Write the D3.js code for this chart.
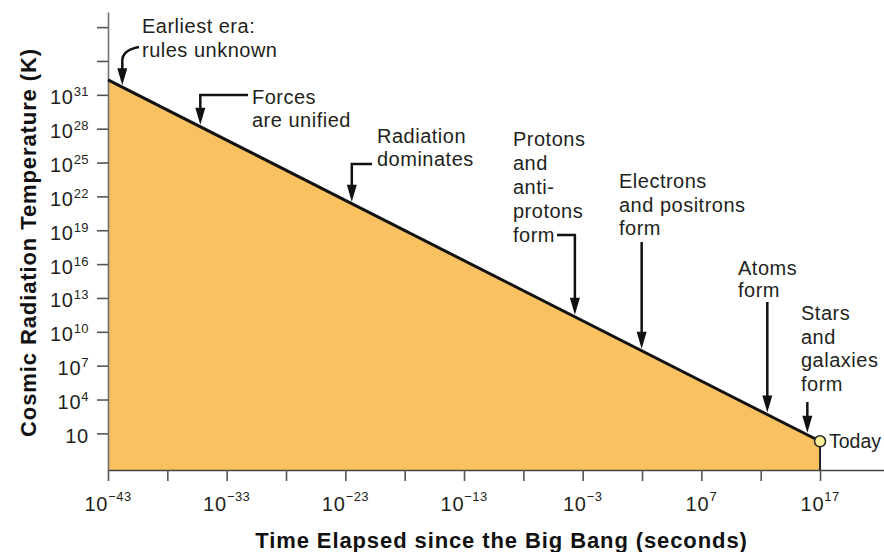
<!DOCTYPE html>
<html><head><meta charset="utf-8">
<script src="https://cdn.jsdelivr.net/npm/d3@7"></script>
<style>
html,body{margin:0;padding:0;background:#fff;}
svg{display:block;font-family:"Liberation Sans",Arial,Helvetica,sans-serif;}
</style></head><body>
<svg id="chart" width="884" height="552"></svg>
<script>
// ---------- data ----------
const eraTimes = [1e-43, 1e17];          // seconds since the Big Bang
const eraTemps = [2.1e32, 2];            // cosmic radiation temperature, K
const timeTickExps  = [-43,-38,-33,-28,-23,-18,-13,-8,-3,2,7,12,17];
const timeLabelExps = [-43,-33,-23,-13,-3,7,17];
const tempTickExps  = [1,4,7,10,13,16,19,22,25,28,31,34,37];
const tempLabelExps = [1,4,7,10,13,16,19,22,25,28,31];
const eventNames = [
  ["Earliest era:", "rules unknown"],
  ["Forces", "are unified"],
  ["Radiation", "dominates"],
  ["Protons", "and", "anti-", "protons", "form"],
  ["Electrons", "and positrons", "form"],
  ["Atoms", "form"],
  ["Stars", "and", "galaxies", "form"]
];
const eventTimes = [1.6e-42, 6e-36, 3.5e-23, 2.2e-4, 93, 3.6e12, 8.5e15];
const todayLabel = "Today";
const xTitle = "Time Elapsed since the Big Bang (seconds)";
const yTitle = "Cosmic Radiation Temperature (K)";

// ---------- layout ----------
const labelLayout = [
  {tx:142, ty:33,  lh:24,   kind:"hook",  ex:139, ey:47},
  {tx:252, ty:104, lh:23,   kind:"elbow", ex:248, ey:95},
  {tx:377, ty:143, lh:23,   kind:"elbow", ex:372, ey:164},
  {tx:513, ty:146, lh:24,   kind:"elbow", ex:557, ey:235},
  {tx:619, ty:188, lh:23.5, kind:"straight", ey:242},
  {tx:738, ty:275, lh:22,   kind:"straight", ey:302},
  {tx:801, ty:320, lh:23.7, kind:"straight", ey:402}
];
const TEXT = "#231f20";
const FILL = "#f9c160";

const svg = d3.select("#chart");
const x = d3.scaleLog().domain([1e-43, Math.pow(10, 22.39)]).range([108, 884]);
const y = d3.scaleLog().domain([Math.pow(10, -2.245), Math.pow(10, 38.34)]).range([470, 12]);
const pts = eraTimes.map((t, i) => [t, eraTemps[i]]);

// area under curve
svg.append("path")
  .datum(pts)
  .attr("d", d3.area().x(d => x(d[0])).y0(y.range()[0]).y1(d => y(d[1])))
  .attr("fill", FILL);

// axes
const yAxis = d3.axisLeft(y).tickValues(tempTickExps.map(e => Math.pow(10, e)))
  .tickSize(11).tickSizeOuter(0).tickFormat(() => "");
const gy = svg.append("g").attr("transform", "translate(108,0)").call(yAxis);
gy.select(".domain").attr("stroke", "#707070").attr("stroke-width", 1.6);
gy.selectAll(".tick line").attr("stroke", "#555").attr("stroke-width", 1.6);

const xAxis = d3.axisBottom(x).tickValues(timeTickExps.map(e => Math.pow(10, e)))
  .tickSize(11).tickSizeOuter(0).tickFormat(() => "");
const gx = svg.append("g").attr("transform", "translate(0,470)").call(xAxis);
gx.select(".domain").attr("stroke", "#444").attr("stroke-width", 1.6);
gx.selectAll(".tick line").attr("stroke", "#555").attr("stroke-width", 1.6);

// y tick labels
tempLabelExps.forEach(e => {
  const t = svg.append("text").attr("x", 89).attr("y", y(Math.pow(10, e)) + 9.5)
    .attr("text-anchor", "end").attr("fill", TEXT).attr("font-size", 20)
    .attr("letter-spacing", 0.8);
  t.append("tspan").text("10");
  if (e !== 1) t.append("tspan").attr("font-size", 13).attr("dy", -8).attr("letter-spacing", 0.4).text(String(e));
});
// x tick labels
timeLabelExps.forEach(e => {
  const t = svg.append("text").attr("x", x(Math.pow(10, e))).attr("y", 510.5)
    .attr("text-anchor", "middle").attr("fill", TEXT).attr("font-size", 20)
    .attr("letter-spacing", 0.8);
  t.append("tspan").text("10");
  t.append("tspan").attr("font-size", 13).attr("dy", -10).attr("letter-spacing", 0.4)
    .text(e < 0 ? "\u2212" + Math.abs(e) : String(e));
});

// line
svg.append("path").datum(pts)
  .attr("d", d3.line().x(d => x(d[0])).y(d => y(d[1])))
  .attr("fill", "none").attr("stroke", "#111").attr("stroke-width", 3);

// today marker
const tx1 = x(eraTimes[1]), ty1 = y(eraTemps[1]);
svg.append("line").attr("x1", tx1).attr("x2", tx1).attr("y1", ty1).attr("y2", 470)
  .attr("stroke", "#222").attr("stroke-width", 2);
svg.append("circle").attr("cx", tx1).attr("cy", ty1).attr("r", 5.5)
  .attr("fill", "#fdf09c").attr("stroke", "#222").attr("stroke-width", 1.5);
svg.append("text").attr("x", 829).attr("y", ty1 + 6.5).attr("fill", TEXT)
  .attr("font-size", 19.5).text(todayLabel);

// annotations
function lineY(t) {
  const px = x(t);
  const x0 = x(eraTimes[0]), x1 = x(eraTimes[1]);
  const y0 = y(eraTemps[0]), y1 = y(eraTemps[1]);
  return y0 + (px - x0) / (x1 - x0) * (y1 - y0);
}
const headH = 17, headW = 10;
eventNames.forEach((lines, i) => {
  const L = labelLayout[i];
  lines.forEach((s, j) => {
    svg.append("text").attr("x", L.tx).attr("y", L.ty + j * L.lh)
      .attr("fill", TEXT).attr("font-size", 20).attr("letter-spacing", 0.5).text(s);
  });
  const ax = x(eventTimes[i]);
  const tip = lineY(eventTimes[i]) - 2;
  let d;
  if (L.kind === "hook") d = `M${L.ex},${L.ey} Q${ax},${L.ey + 3} ${ax},${L.ey + 14} V${tip - headH + 2}`;
  else if (L.kind === "elbow") d = `M${L.ex},${L.ey} H${ax} V${tip - headH + 2}`;
  else d = `M${ax},${L.ey} V${tip - headH + 2}`;
  svg.append("path").attr("d", d).attr("fill", "none").attr("stroke", "#111").attr("stroke-width", 2.5);
  svg.append("path").attr("d", `M${ax - headW / 2},${tip - headH} L${ax + headW / 2},${tip - headH} L${ax},${tip} Z`)
    .attr("fill", "#111");
});

// axis titles
svg.append("text").attr("x", 501.5).attr("y", 548).attr("text-anchor", "middle")
  .attr("font-weight", "bold").attr("font-size", 22).attr("letter-spacing", 0.9)
  .attr("fill", "#111").text(xTitle);
svg.append("text").attr("transform", "translate(36,242.5) rotate(-90)").attr("text-anchor", "middle")
  .attr("font-weight", "bold").attr("font-size", 22).attr("letter-spacing", 0.9)
  .attr("fill", "#111").text(yTitle);
</script>
</body></html>
